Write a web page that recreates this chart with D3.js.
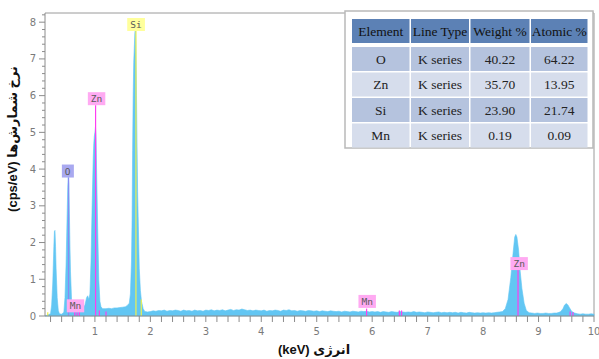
<!DOCTYPE html>
<html>
<head>
<meta charset="utf-8">
<script src="https://cdn.jsdelivr.net/npm/d3@7"></script>
<style>
html,body{margin:0;padding:0;background:#fff;}
svg{display:block;}
</style>
</head>
<body>
<svg id="chart" width="599" height="359"></svg>
<script>
// ---------- DATA ----------
const energy = [
 0.10,0.15,0.20,0.22,0.24,0.26,0.27,0.28,0.29,0.30,0.32,0.34,0.36,0.40,
 0.44,0.46,0.48,0.50,0.51,0.52,0.53,0.54,0.55,0.56,0.58,0.60,
 0.62,0.66,0.70,0.74,0.78,0.82,0.85,0.87,0.89,0.91,0.93,0.95,0.97,0.98,0.99,1.00,1.01,1.02,1.03,1.05,1.07,1.09,1.11,1.14,
 1.20,1.25,1.30,1.35,1.40,1.45,1.50,1.55,1.58,1.62,1.64,1.66,1.67,1.68,1.69,1.70,1.71,1.72,1.73,1.74,1.75,1.76,1.77,1.78,1.79,1.80,1.82,1.84,1.87,1.90,1.95,
 2.00,2.05,2.10,2.15,2.20,2.25,2.30,2.35,2.40,2.45,2.50,2.55,2.60,2.65,2.70,2.75,2.80,2.85,2.90,2.95,
 3.00,3.05,3.10,3.15,3.20,3.25,3.30,3.35,3.40,3.45,3.50,3.55,3.60,3.65,3.70,3.75,3.80,3.85,3.90,3.95,
 4.00,4.05,4.10,4.15,4.20,4.25,4.30,4.35,4.40,4.45,4.50,4.55,4.60,4.65,4.70,4.75,4.80,4.85,4.90,4.95,
 5.00,5.05,5.10,5.15,5.20,5.25,5.30,5.35,5.40,5.45,5.50,5.55,5.60,5.65,5.70,5.75,5.80,5.85,5.90,5.95,
 6.00,6.05,6.10,6.15,6.20,6.25,6.30,6.35,6.40,6.45,6.50,6.55,6.60,6.65,6.70,6.75,6.80,6.85,6.90,6.95,
 7.00,7.05,7.10,7.15,7.20,7.25,7.30,7.35,7.40,7.45,7.50,7.55,7.60,7.65,7.70,7.75,7.80,7.85,7.90,7.95,
 8.00,8.05,8.10,8.15,8.20,8.25,8.30,8.35,8.40,8.45,8.50,8.54,8.57,8.59,8.61,8.64,8.67,8.70,8.74,8.78,8.83,
 8.88,8.93,8.98,9.03,9.08,9.13,9.18,9.23,9.28,9.33,9.37,9.40,9.44,9.47,9.50,9.53,9.56,9.60,9.65,9.70,
 9.75,9.80,9.85,9.90,9.95,10.00
];
const cps = [
 0.00,0.03,0.06,0.30,0.90,1.90,2.30,2.33,1.90,1.30,0.50,0.15,0.06,0.05,
 0.10,0.50,1.40,2.80,3.50,3.80,3.60,2.80,1.90,1.20,0.40,0.12,
 0.10,0.12,0.15,0.12,0.20,0.30,0.50,0.55,0.45,0.60,1.50,3.00,4.30,4.70,4.90,5.00,5.15,4.90,4.00,2.40,1.00,0.40,0.25,0.20,
 0.20,0.21,0.20,0.22,0.22,0.23,0.24,0.25,0.28,0.35,0.60,1.50,2.60,4.50,6.00,6.90,7.30,7.70,7.85,7.20,6.00,4.60,3.40,2.70,2.00,1.30,0.70,0.40,0.20,0.12,0.11,
 0.12,0.14,0.13,0.15,0.14,0.16,0.13,0.15,0.14,0.16,0.15,0.13,0.16,0.14,0.15,0.13,0.16,0.14,0.15,0.13,
 0.16,0.15,0.17,0.14,0.16,0.15,0.17,0.14,0.16,0.18,0.15,0.17,0.16,0.19,0.17,0.15,0.16,0.14,0.16,0.15,
 0.14,0.16,0.13,0.15,0.14,0.16,0.15,0.13,0.16,0.15,0.17,0.14,0.15,0.13,0.15,0.14,0.13,0.15,0.14,0.13,
 0.14,0.12,0.14,0.13,0.12,0.14,0.13,0.12,0.13,0.11,0.13,0.12,0.11,0.13,0.12,0.11,0.13,0.12,0.13,0.11,
 0.12,0.11,0.12,0.10,0.12,0.11,0.10,0.12,0.11,0.10,0.12,0.11,0.10,0.11,0.10,0.12,0.10,0.11,0.10,0.09,
 0.11,0.10,0.09,0.10,0.11,0.09,0.10,0.09,0.10,0.09,0.10,0.08,0.10,0.09,0.08,0.10,0.09,0.08,0.09,0.08,
 0.09,0.08,0.09,0.08,0.09,0.10,0.11,0.12,0.20,0.45,1.05,1.70,2.15,2.22,2.15,1.80,1.20,0.75,0.35,0.15,0.09,
 0.08,0.07,0.08,0.07,0.07,0.08,0.07,0.07,0.08,0.08,0.10,0.12,0.20,0.30,0.34,0.30,0.22,0.12,0.08,0.06,
 0.05,0.06,0.05,0.05,0.06,0.05
];

// element marker lines (keV, top in cps, element)
const markerEnergy = [0.15, 0.525, 0.637, 0.68, 0.72, 1.012, 1.08, 1.20, 1.740, 1.836, 5.899, 6.49, 6.53, 8.63, 9.57, 9.62];
const markerTop    = [0.10, 3.77, 0.12, 0.10, 0.12, 5.74, 0.15, 0.12, 7.76, 0.45, 0.20, 0.15, 0.15, 1.25, 0.12, 0.10];
const markerElem   = ["Si","O","Mn","Mn","Mn","Zn","Zn","Zn","Si","Si","Mn","Mn","Mn","Zn","Zn","Zn"];

// peak labels
const labelNames  = ["O", "Zn", "Si", "Mn", "Mn", "Zn"];
const labelEnergy = [0.51, 1.03, 1.74, 0.65, 5.91, 8.65];
const labelBottom = [3.77, 5.74, 7.76, 0.10, 0.22, 1.25];

// axis tick labels
const xTickLabels = [1,2,3,4,5,6,7,8,9,10];
const yTickLabels = [0,1,2,3,4,5,6,7,8];

// table
const tableHeader = ["Element", "Line Type", "Weight %", "Atomic %"];
const tableElements = ["O", "Zn", "Si", "Mn"];
const tableLineType = ["K series", "K series", "K series", "K series"];
const weightPct = [40.22, 35.70, 23.90, 0.19];
const atomicPct = [64.22, 13.95, 21.74, 0.09];

// ---------- DRAW ----------
const svg = d3.select("#chart");
const x = d3.scaleLinear().domain([0.1, 10]).range([45, 594]);
const y = d3.scaleLinear().domain([0, 8.25]).range([316, 13]);

const elemLineColor = {O:"#8a8af2", Zn:"#ff3cf0", Si:"#eef04a", Mn:"#ff3cf0"};
const elemBoxColor  = {O:"#a9a9f0", Zn:"#ffaaf2", Si:"#ffff9c", Mn:"#ffaaf2"};

const spectrum = energy.map((e,i)=>({e, v:cps[i]}));

// frame top/right
svg.append("path")
  .attr("d", `M${x(0.1)},${y(8.25)}H${x(10)}V${y(0)}`)
  .attr("fill","none").attr("stroke","#9a9a9a").attr("stroke-width",1);

// spectrum fill
const area = d3.area().x(d=>x(d.e)).y0(y(0)).y1(d=>y(d.v));
svg.append("path").datum(spectrum).attr("d", area)
  .attr("fill", "#62c6f3").attr("stroke","#62c6f3").attr("stroke-width",0.6);

// marker lines
svg.append("g").selectAll("line").data(markerEnergy).join("line")
  .attr("x1", d=>x(d)).attr("x2", d=>x(d))
  .attr("y1", y(0)).attr("y2", (d,i)=>y(markerTop[i]))
  .attr("stroke", (d,i)=>elemLineColor[markerElem[i]])
  .attr("stroke-width", 1.2);

// axes
const xAxisG = svg.append("g").attr("transform", `translate(0,${y(0)})`);
xAxisG.append("line").attr("x1", x(0.1)).attr("x2", x(10)).attr("stroke","#8c8c8c");
xAxisG.selectAll("line.t").data(d3.range(0.2, 10.001, 0.2)).join("line").attr("class","t")
  .attr("x1", d=>x(d)).attr("x2", d=>x(d)).attr("y1",0).attr("y2",6)
  .attr("stroke","#8c8c8c");
xAxisG.selectAll("text").data(xTickLabels).join("text")
  .attr("x", d=>x(d)).attr("y", 19)
  .attr("text-anchor","middle")
  .attr("font-family","DejaVu Sans, Verdana, sans-serif").attr("font-size",10)
  .attr("fill","#7a7a7a").text(d=>d);

const yAxisG = svg.append("g").attr("transform", `translate(${x(0.1)},0)`);
yAxisG.append("line").attr("y1", y(0)).attr("y2", y(8.25)).attr("stroke","#8c8c8c");
yAxisG.selectAll("line.t").data(d3.range(0, 8.201, 0.2)).join("line").attr("class","t")
  .attr("y1", d=>y(d)).attr("y2", d=>y(d))
  .attr("x1", d=>Math.abs(d-Math.round(d))<1e-6 ? -6 : -3).attr("x2",0)
  .attr("stroke","#8c8c8c");
yAxisG.selectAll("text").data(yTickLabels).join("text")
  .attr("x", -9).attr("y", d=>y(d)+3.5)
  .attr("text-anchor","end")
  .attr("font-family","DejaVu Sans, Verdana, sans-serif").attr("font-size",10)
  .attr("fill","#7a7a7a").text(d=>d);

// peak labels
const lbl = svg.append("g").selectAll("g").data(labelNames).join("g");
lbl.each(function(name,i){
  const g = d3.select(this);
  const t = g.append("text")
    .attr("font-family","DejaVu Sans Mono, monospace").attr("font-size",9.5)
    .attr("fill","#5a5a5a").attr("text-anchor","middle")
    .attr("x", x(labelEnergy[i])).attr("y", y(labelBottom[i]) - 3)
    .text(name);
  const bb = t.node().getBBox();
  g.insert("rect","text")
    .attr("x", bb.x - 3).attr("y", y(labelBottom[i]) - 13)
    .attr("width", bb.width + 6).attr("height", 13)
    .attr("fill", elemBoxColor[name]);
});

// axis titles
svg.append("text")
  .attr("transform", `translate(17,139) rotate(-90)`)
  .attr("text-anchor","middle")
  .attr("font-family","Liberation Sans, DejaVu Sans, sans-serif")
  .attr("font-weight","bold").attr("font-size",13).attr("fill","#111")
  .text("(cps/eV) نرخ شمارش‌ها");
svg.append("text")
  .attr("x", 314).attr("y", 354)
  .attr("text-anchor","middle")
  .attr("font-family","Liberation Sans, DejaVu Sans, sans-serif")
  .attr("font-weight","bold").attr("font-size",13).attr("fill","#111")
  .text("(keV) انرژی");

// table
const tbl = svg.append("g");
tbl.append("rect").attr("x",345).attr("y",11).attr("width",248).attr("height",137)
  .attr("fill","#fff").attr("stroke","#b9b9b9").attr("stroke-width",1.5);
const colEdges = [352, 411, 470.5, 531, 589];
const headerTop = 19, headerH = 24, rowTop = 47, rowStep = 25.5, rowH = 24;
const rows = tableElements.map((el,i)=>[el, tableLineType[i], weightPct[i].toFixed(2), atomicPct[i].toFixed(2)]);
const cell = (cx0, cx1, cy, ch, fill, txt, color) => {
  tbl.append("rect").attr("x",cx0).attr("y",cy).attr("width",cx1-cx0-1.5).attr("height",ch).attr("fill",fill);
  tbl.append("text").attr("x",(cx0+cx1-1.5)/2).attr("y",cy+ch/2+4.5)
    .attr("text-anchor","middle").attr("font-family","Liberation Serif, Times New Roman, serif")
    .attr("font-size",13.5).attr("fill",color).text(txt);
};
tableHeader.forEach((h,j)=>cell(colEdges[j], colEdges[j+1], headerTop, headerH, "#5c81b5", h, "#111"));
rows.forEach((r,i)=>{
  r.forEach((v,j)=>cell(colEdges[j], colEdges[j+1], rowTop + i*rowStep, rowH, i%2===0 ? "#b5c3de" : "#d6ddec", v, "#222"));
});
</script>
</body>
</html>
